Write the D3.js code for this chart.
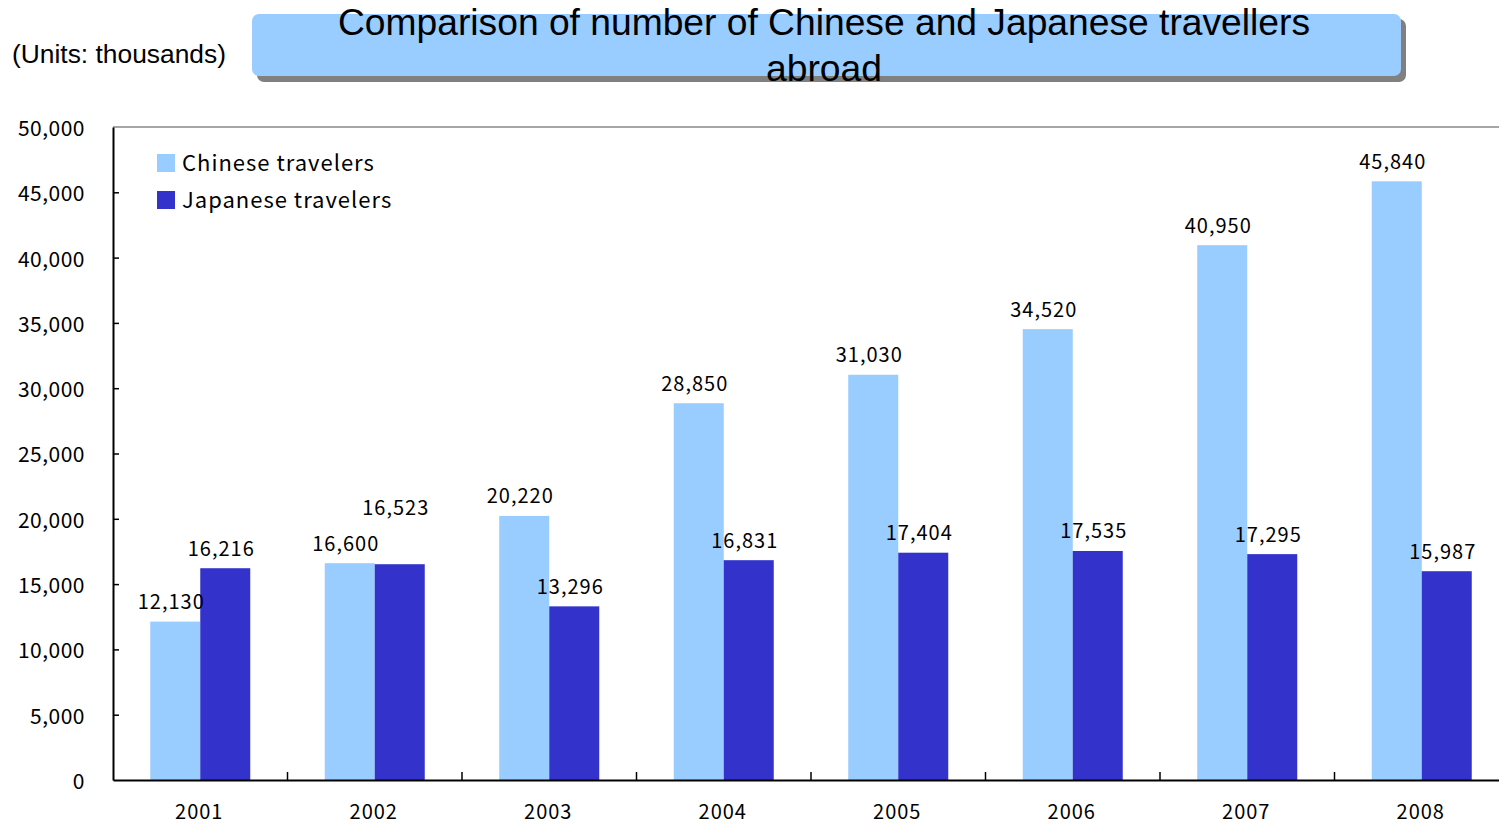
<!DOCTYPE html>
<html>
<head>
<meta charset="utf-8">
<script src="https://cdn.jsdelivr.net/npm/d3@7/dist/d3.min.js"></script>
<style>
  html, body { margin: 0; padding: 0; background: #fff; }
  svg { display: block; }
</style>
</head>
<body>
<svg id="chart" width="1499" height="825"></svg>
<script>
// Travellers abroad, in thousands
const years = ["2001", "2002", "2003", "2004", "2005", "2006", "2007", "2008"];
const chinese = [12130, 16600, 20220, 28850, 31030, 34520, 40950, 45840];
const japanese = [16216, 16523, 13296, 16831, 17404, 17535, 17295, 15987];
const seriesNames = ["Chinese travelers", "Japanese travelers"];
const seriesColors = ["#99ccff", "#3333cc"];
const yTicks = [0, 5000, 10000, 15000, 20000, 25000, 30000, 35000, 40000, 45000, 50000];

const svg = d3.select("#chart");
const numFont = "'Noto Sans CJK JP', 'DejaVu Sans', sans-serif";
const latinFont = "'Liberation Sans', Arial, sans-serif";

const plot = { left: 113, top: 127, bottom: 780, right: 1509 };

const x = d3.scaleBand().domain(years).range([plot.left, plot.right]).paddingInner(0).paddingOuter(0);
const inner = d3.scaleBand().domain([0, 1]).range([0, 100]);
const groupOffset = (x.bandwidth() - 100) / 2;
const y = d3.scaleLinear().domain([0, 50000]).range([plot.bottom, plot.top]);

const fmt = d3.format(",");

// Title box with drop shadow
const title = svg.append("g");
title.append("rect")
  .attr("x", 257).attr("y", 19).attr("width", 1149).attr("height", 63)
  .attr("rx", 7).attr("fill", "#808080");
title.append("rect")
  .attr("x", 252).attr("y", 14).attr("width", 1149).attr("height", 62)
  .attr("rx", 7).attr("fill", "#99ccff");
title.selectAll("text.t")
  .data(["Comparison of number of Chinese and Japanese travellers", "abroad"])
  .join("text")
  .attr("class", "t")
  .attr("x", 824).attr("y", (d, i) => 25 + i * 46)
  .attr("text-anchor", "middle")
  .attr("font-family", latinFont)
  .attr("font-size", 37)
  .attr("textLength", (d, i) => i === 0 ? 972 : 116)
  .attr("lengthAdjust", "spacingAndGlyphs")
  .attr("dominant-baseline", "middle")
  .attr("fill", "#000")
  .text(d => d);

svg.append("text")
  .attr("x", 12).attr("y", 63)
  .attr("font-family", latinFont).attr("font-size", 25)
  .attr("textLength", 214).attr("lengthAdjust", "spacingAndGlyphs")
  .text("(Units: thousands)");

// Top frame line
svg.append("line")
  .attr("x1", plot.left).attr("x2", plot.right)
  .attr("y1", plot.top).attr("y2", plot.top)
  .attr("stroke", "#888").attr("stroke-width", 1.5);

// Bars
const groups = svg.append("g").selectAll("g")
  .data(years)
  .join("g")
  .attr("transform", d => `translate(${x(d) + groupOffset},0)`);

const seriesData = [chinese, japanese];
groups.each(function(yr, i) {
  const g = d3.select(this);
  seriesData.forEach((vals, s) => {
    g.append("rect")
      .attr("x", inner(s))
      .attr("width", inner.bandwidth())
      .attr("y", y(vals[i]))
      .attr("height", y(0) - y(vals[i]))
      .attr("fill", seriesColors[s]);
  });
});

// Axes
const yAxis = d3.axisLeft(y).tickValues(yTicks).tickFormat(fmt).tickSize(0).tickPadding(28);
const yG = svg.append("g").attr("transform", `translate(${plot.left},0)`).call(yAxis);
yG.select(".domain").attr("stroke", "#000").attr("stroke-width", 2);
yG.selectAll(".tick text").attr("font-family", numFont).attr("font-size", 21).attr("fill", "#000")
  .attr("letter-spacing", "0.5px").attr("dy", "0.4em");
yG.selectAll(".tick").append("line").attr("x1", 0).attr("x2", 6).attr("stroke", "#000").attr("stroke-width", 1.5)
  .filter(d => d === 0 || d === 50000).remove();

const xAxis = d3.axisBottom(x).tickSize(0).tickPadding(25);
const xG = svg.append("g").attr("transform", `translate(0,${plot.bottom})`).call(xAxis);
xG.select(".domain").attr("stroke", "#000").attr("stroke-width", 2);
xG.selectAll(".tick text").attr("font-family", numFont).attr("font-size", 20).attr("fill", "#000")
  .attr("letter-spacing", "1px")
  .attr("dx", -1);
// category separators
xG.append("g").selectAll("line")
  .data(years.slice(1))
  .join("line")
  .attr("x1", d => x(d)).attr("x2", d => x(d))
  .attr("y1", 0).attr("y2", -8)
  .attr("stroke", "#000").attr("stroke-width", 1.5);

// Value labels
const labelLayer = svg.append("g")
  .attr("font-family", numFont).attr("font-size", 20)
  .attr("letter-spacing", "1px")
  .attr("text-anchor", "middle").attr("fill", "#000");

years.forEach((yr, i) => {
  const gx = x(yr) + groupOffset;
  const cy = y(chinese[i]) - 18;
  let jy = y(japanese[i]) - 18;
  // Lift the second label when it would collide with the first one
  if (Math.abs(jy - cy) < 24) jy = cy - 36;
  labelLayer.append("text")
    .attr("x", gx + inner(0) + inner.bandwidth() / 2 - 4)
    .attr("y", cy).attr("dominant-baseline", "middle")
    .text(fmt(chinese[i]));
  labelLayer.append("text")
    .attr("x", gx + inner(1) + inner.bandwidth() / 2 - 4)
    .attr("y", jy).attr("dominant-baseline", "middle")
    .text(fmt(japanese[i]));
});

// Legend
const legend = svg.append("g");
seriesNames.forEach((name, s) => {
  legend.append("rect")
    .attr("x", 157).attr("y", 154 + s * 37)
    .attr("width", 18).attr("height", 18)
    .attr("fill", seriesColors[s]);
  legend.append("text")
    .attr("x", 182).attr("y", 165 + s * 37)
    .attr("dominant-baseline", "middle")
    .attr("font-family", numFont).attr("font-size", 22)
    .attr("letter-spacing", "1px")
    .text(name);
});
</script>
</body>
</html>
